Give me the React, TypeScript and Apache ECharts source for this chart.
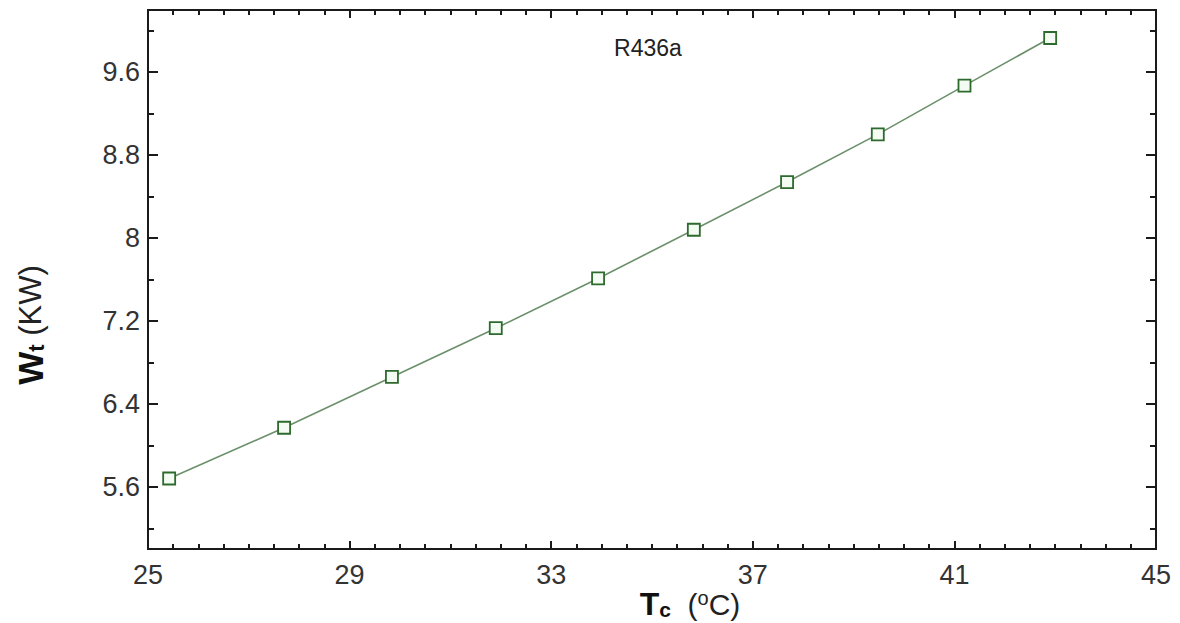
import React, { useEffect, useRef } from "react";
import * as echarts from "echarts";

// Condenser temperature (°C) and total work input (kW) for R436a
const condTemp = [25.42, 27.7, 29.84, 31.9, 33.93, 35.83, 37.68, 39.48, 41.2, 42.9];
const workInput = [5.68, 6.17, 6.66, 7.13, 7.61, 8.08, 8.54, 9.0, 9.47, 9.93];

// Axis ranges and labelled ticks
const xRange = [25, 45];
const yRange = [5.0, 10.2];
const xTickLabels = [25, 29, 33, 37, 41, 45];
const yTickLabels = [5.6, 6.4, 7.2, 8, 8.8, 9.6];
const xMinorStep = 0.5;
const yFineStep = 0.2;
const yMinorStep = 0.4;

const FONT = "'Liberation Sans', Arial, sans-serif";
const AXIS_COLOR = "#1a1a1a";

const near = (a: number, b: number) => Math.abs(a - b) < 1e-6;
const isMultiple = (v: number, step: number) => near(v / step, Math.round(v / step));

function stepsBetween(lo: number, hi: number, step: number): number[] {
  const n = Math.round((hi - lo) / step);
  const out: number[] = [];
  for (let i = 0; i <= n; i++) out.push(Number((lo + i * step).toFixed(4)));
  return out;
}

const xTickPositions = stepsBetween(xRange[0], xRange[1], xMinorStep);
const yTickPositions = stepsBetween(yRange[0], yRange[1], yFineStep);

// A category axis laid over the grid that only draws inward tick marks
function tickAxis(
  position: string,
  positions: number[],
  keep: (v: number) => boolean,
  length: number
) {
  return {
    type: "category",
    gridIndex: 0,
    position,
    data: positions.map(String),
    boundaryGap: false,
    axisLine: { show: false },
    axisLabel: { show: false },
    splitLine: { show: false },
    axisTick: {
      show: true,
      inside: true,
      length,
      interval: (i: number) => keep(positions[i]),
      lineStyle: { color: AXIS_COLOR, width: 2 },
    },
  };
}

const xMajor = (v: number) => xTickLabels.some((t) => near(t, v));
const xMinor = (v: number) => !xMajor(v);
const yMajor = (v: number) => yTickLabels.some((t) => near(t, v));
const yMinor = (v: number) => isMultiple(v, yMinorStep) && !yMajor(v);

export default function App() {
  const ref = useRef<HTMLDivElement>(null);

  useEffect(() => {
    if (!ref.current) return;
    const chart = echarts.init(ref.current, undefined, { renderer: "svg" });

    const labelStyle = { fontSize: 27, color: "#333", fontFamily: FONT };

    chart.setOption({
      animation: false,
      backgroundColor: "#ffffff",
      grid: {
        left: 148,
        top: 10,
        width: 1008,
        height: 539,
        show: true,
        borderColor: AXIS_COLOR,
        borderWidth: 2,
        backgroundColor: "transparent",
      },
      xAxis: [
        {
          type: "value",
          gridIndex: 0,
          position: "bottom",
          min: xRange[0],
          max: xRange[1],
          interval: xMinorStep,
          axisLine: { show: false },
          axisTick: { show: false },
          splitLine: { show: false },
          axisLabel: {
            ...labelStyle,
            margin: 12,
            formatter: (v: number) => (xMajor(v) ? String(Math.round(v)) : ""),
          },
        },
        tickAxis("bottom", xTickPositions, xMinor, 5),
        tickAxis("bottom", xTickPositions, xMajor, 8),
        tickAxis("top", xTickPositions, xMinor, 5),
        tickAxis("top", xTickPositions, xMajor, 8),
      ],
      yAxis: [
        {
          type: "value",
          gridIndex: 0,
          position: "left",
          min: yRange[0],
          max: yRange[1],
          interval: yFineStep,
          axisLine: { show: false },
          axisTick: { show: false },
          splitLine: { show: false },
          axisLabel: {
            ...labelStyle,
            margin: 8,
            formatter: (v: number) => {
              const t = yTickLabels.find((l) => near(l, v));
              return t === undefined ? "" : String(t);
            },
          },
        },
        tickAxis("left", yTickPositions, yMinor, 6),
        tickAxis("left", yTickPositions, yMajor, 10),
        tickAxis("right", yTickPositions, yMinor, 6),
        tickAxis("right", yTickPositions, yMajor, 10),
      ],
      series: [
        {
          type: "line",
          xAxisIndex: 0,
          yAxisIndex: 0,
          data: condTemp.map((t, i) => [t, workInput[i]]),
          symbol: "rect",
          symbolSize: 12,
          showAllSymbol: true,
          lineStyle: { color: "#6b906b", width: 1.6 },
          itemStyle: { color: "#f3fbf3", borderColor: "#2d6a2d", borderWidth: 1.8 },
          emphasis: { disabled: true },
          z: 5,
        },
      ],
      graphic: [
        {
          type: "text",
          x: 648,
          y: 48,
          style: {
            text: "R436a",
            fontSize: 23,
            fontFamily: FONT,
            fill: "#222",
            align: "center",
            verticalAlign: "middle",
          },
        },
        {
          type: "text",
          x: 30,
          y: 325,
          rotation: Math.PI / 2,
          style: {
            text: "{b|W}{s|t}{n| (KW)}",
            align: "center",
            verticalAlign: "middle",
            fill: "#111",
            rich: {
              b: { fontSize: 35, fontWeight: "bold", fontFamily: FONT, fill: "#111" },
              s: {
                fontSize: 22,
                fontWeight: "bold",
                fontFamily: FONT,
                fill: "#111",
                verticalAlign: "bottom",
              },
              n: { fontSize: 31, fontFamily: FONT, fill: "#222" },
            },
          },
        },
        {
          type: "text",
          x: 690,
          y: 604,
          style: {
            text: "{b|T}{s|c}{n|  (}{sup|o}{n|C)}",
            align: "center",
            verticalAlign: "middle",
            fill: "#111",
            rich: {
              b: { fontSize: 32, fontWeight: "bold", fontFamily: FONT, fill: "#111" },
              s: {
                fontSize: 21,
                fontWeight: "bold",
                fontFamily: FONT,
                fill: "#111",
                verticalAlign: "bottom",
              },
              n: { fontSize: 30, fontFamily: FONT, fill: "#222" },
              sup: { fontSize: 20, fontFamily: FONT, fill: "#222", verticalAlign: "top" },
            },
          },
        },
      ],
    });

    return () => chart.dispose();
  }, []);

  return (
    <div
      ref={ref}
      style={{ position: "absolute", left: 0, top: 0, width: 1180, height: 623 }}
    />
  );
}
